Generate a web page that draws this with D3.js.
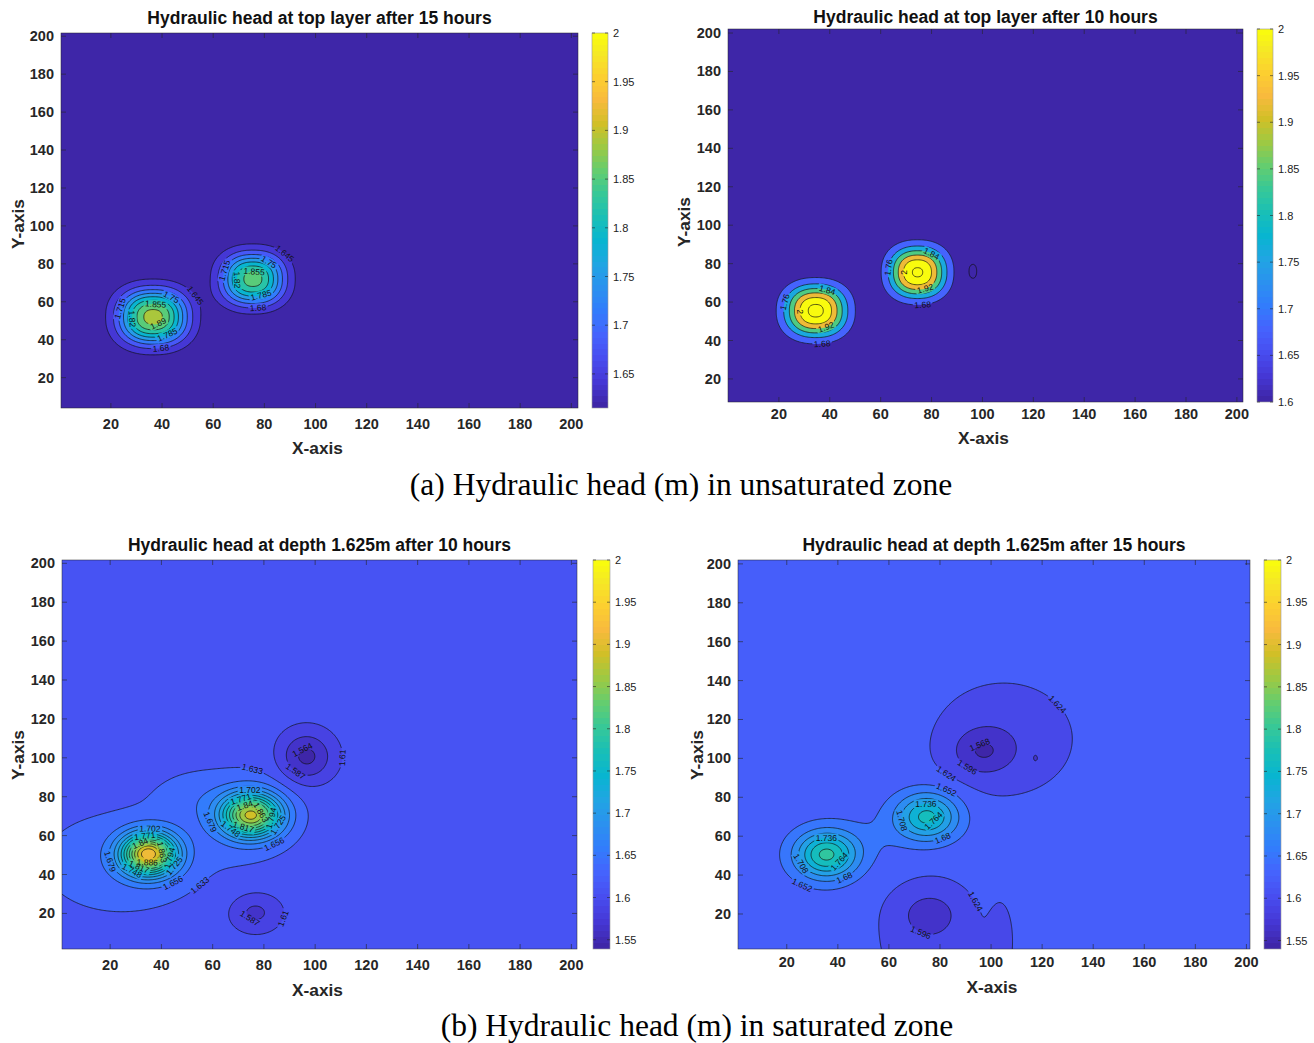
<!DOCTYPE html>
<html>
<head>
<meta charset="utf-8">
<script src="https://cdn.jsdelivr.net/npm/d3@7"></script>
<style>
  body { margin: 0; background: #fff; }
  svg { display: block; }
  text { font-family: "Liberation Sans", Arial, Helvetica, sans-serif; }
</style>
</head>
<body>
<svg id="fig" width="1314" height="1043"></svg>
<script>
// ---------------------------------------------------------------
// Tick labels shared by every map
const xTicks = [20, 40, 60, 80, 100, 120, 140, 160, 180, 200];
const yTicks = [20, 40, 60, 80, 100, 120, 140, 160, 180, 200];

// Colour-bar ticks
const cbTicksTop15  = [1.65, 1.7, 1.75, 1.8, 1.85, 1.9, 1.95, 2];
const cbTicksTop10  = [1.6, 1.65, 1.7, 1.75, 1.8, 1.85, 1.9, 1.95, 2];
const cbTicksDeep   = [1.55, 1.6, 1.65, 1.7, 1.75, 1.8, 1.85, 1.9, 1.95, 2];

// Contour levels (m)
const levelsTop15  = [1.645, 1.68, 1.715, 1.75, 1.785, 1.82, 1.855, 1.89];
const levelsTop10  = [1.6, 1.68, 1.76, 1.84, 1.92, 2.0, 2.08];
const levelsDeep10 = [1.564, 1.587, 1.61, 1.633, 1.656, 1.679, 1.702, 1.725, 1.748,
                      1.771, 1.794, 1.817, 1.84, 1.863, 1.886, 1.909, 1.932];
const levelsDeep15 = [1.568, 1.596, 1.624, 1.652, 1.68, 1.708, 1.736, 1.764, 1.792, 1.82];

// Background head (m)
const baseTop15 = 1.615, baseTop10 = 1.605, baseDeep10 = 1.62, baseDeep15 = 1.636;

// Head mounds / depressions: [x, y, rise (m), spread x, spread y]
const sourcesTop15 = [
  [36.5, 52, 0.29, 13, 14],
  [75.5, 72, 0.255, 11.9, 13.3]
];
const sourcesTop10 = [
  [34.5, 55.5, 0.495, 11.8, 13.1],
  [74.5, 75.5, 0.485, 10.9, 12.9],
  [96, 76, -0.025, 1.5, 3.5]
];
const sourcesDeep10 = [
  [35, 50.5, 0.285, 10.7, 10.7],
  [75, 70.5, 0.25, 11.5, 11],
  [24, 46, 0.024, 38, 32],
  [74, 72, 0.022, 22, 26],
  [52, 80, 0.016, 16, 14],
  [96.5, 100.5, -0.064, 10.5, 13],
  [76.5, 20.5, -0.04, 10, 10]
];
const sourcesDeep15 = [
  [35.5, 50.5, 0.164, 12, 12],
  [75, 70, 0.139, 12, 12],
  [55, 60, 0.012, 14, 14],
  [105, 110, -0.03, 28, 30],
  [96.5, 103.5, -0.046, 11.5, 11.5],
  [117.5, 100, -0.02, 1.7, 3.2],
  [76, 6, -0.025, 22, 34],
  [76, 20.5, -0.035, 12, 12],
  [104, 6, -0.022, 4.7, 20]
];

// ---------------------------------------------------------------
// parula colour map anchors
const parulaAnchors = [
  [0, "#3e26a8"], [4, "#4537d5"], [8, "#484df0"], [12, "#4563fd"],
  [16, "#327cfc"], [20, "#2b91ef"], [24, "#20a5e3"], [28, "#08b5d0"],
  [32, "#19bfb6"], [36, "#37c897"], [40, "#64cd6f"], [44, "#9dc943"],
  [48, "#d1bf27"], [52, "#f8ba3d"], [56, "#fccf30"], [60, "#f5e924"],
  [63, "#f9fb0e"]
];
const parulaScale = d3.scaleLinear()
  .domain(parulaAnchors.map(d => d[0]))
  .range(parulaAnchors.map(d => d[1]))
  .interpolate(d3.interpolateRgb)
  .clamp(true);
function colorFor(v, cmin, cmax) {
  const idx = Math.max(0, Math.min(63, Math.floor((v - cmin) / (cmax - cmin) * 64)));
  return parulaScale(idx);
}

// ---------------------------------------------------------------
const panels = [
  {
    title: "Hydraulic head at top layer after 15 hours",
    base: baseTop15, sources: sourcesTop15, levels: levelsTop15, shape: 2.3,
    cmin: 1.615, cmax: 2, cbTicks: cbTicksTop15,
    plot: [61, 33, 578, 408], cbar: [592, 608],
    xdom: [0.5, 202.6], ydom: [4, 201.7],
    titleY: 18, xTickY: 424, xLabelY: 448, yLabelX: 18, yLabelY: 224
  },
  {
    title: "Hydraulic head at top layer after 10 hours",
    base: baseTop10, sources: sourcesTop10, levels: levelsTop10, shape: 2.3,
    cmin: 1.6, cmax: 2, cbTicks: cbTicksTop10,
    plot: [728, 29, 1243, 402], cbar: [1257, 1273],
    xdom: [0, 202.4], ydom: [8, 202.1],
    titleY: 17, xTickY: 414, xLabelY: 438, yLabelX: 684, yLabelY: 222
  },
  {
    title: "Hydraulic head at depth 1.625m after 10 hours",
    base: baseDeep10, sources: sourcesDeep10, levels: levelsDeep10, shape: 2,
    cmin: 1.539, cmax: 2, cbTicks: cbTicksDeep,
    plot: [62, 560, 577, 949], cbar: [593, 610],
    xdom: [1.2, 202.2], ydom: [1.7, 201.7],
    titleY: 545, xTickY: 965, xLabelY: 990, yLabelX: 18, yLabelY: 755
  },
  {
    title: "Hydraulic head at depth 1.625m after 15 hours",
    base: baseDeep15, sources: sourcesDeep15, levels: levelsDeep15, shape: 2,
    cmin: 1.54, cmax: 2, cbTicks: cbTicksDeep,
    plot: [738, 560, 1250, 949], cbar: [1264, 1281],
    xdom: [0.9, 201.4], ydom: [2, 202],
    titleY: 545, xTickY: 962, xLabelY: 987, yLabelX: 697, yLabelY: 755
  }
];

const captions = [
  { text: "(a) Hydraulic head (m) in unsaturated zone", x: 681, y: 484 },
  { text: "(b) Hydraulic head (m) in saturated zone", x: 697, y: 1025 }
];

// ---------------------------------------------------------------
const svg = d3.select("#fig");
const defs = svg.append("defs");
const STEP = 0.5, G0 = -4, N = 421;

function headGrid(base, sources, p) {
  const values = new Float64Array(N * N);
  for (let j = 0; j < N; j++) {
    const y = G0 + j * STEP;
    for (let i = 0; i < N; i++) {
      const x = G0 + i * STEP;
      let v = base;
      for (const [cx, cy, a, sx, sy] of sources) {
        const q = Math.pow(Math.abs((x - cx) / sx), p) + Math.pow(Math.abs((y - cy) / sy), p);
        if (q < 40) v += a * Math.exp(-q);
      }
      values[j * N + i] = v;
    }
  }
  return values;
}

const fmtLevel = v => String(+v.toFixed(3));

panels.forEach((P, pi) => {
  const [px0, py0, px1, py1] = P.plot;
  const xs = d3.scaleLinear().domain(P.xdom).range([px0, px1]);
  const ys = d3.scaleLinear().domain(P.ydom).range([py1, py0]);
  const toPx = (gx, gy) => [xs(G0 + (gx - 0.5) * STEP), ys(G0 + (gy - 0.5) * STEP)];

  const clipId = "clip" + pi, maskId = "mask" + pi;
  defs.append("clipPath").attr("id", clipId)
    .append("rect").attr("x", px0).attr("y", py0)
    .attr("width", px1 - px0).attr("height", py1 - py0);
  const mask = defs.append("mask").attr("id", maskId)
    .attr("maskUnits", "userSpaceOnUse")
    .attr("x", 0).attr("y", 0).attr("width", 1314).attr("height", 1043);
  mask.append("rect").attr("x", 0).attr("y", 0).attr("width", 1314).attr("height", 1043)
    .attr("fill", "#fff");

  const values = headGrid(P.base, P.sources, P.shape);
  const bands = d3.contours().size([N, N]).thresholds(P.levels)(values);

  const proj = d3.geoTransform({
    point(x, y) { const q = toPx(x, y); this.stream.point(q[0], q[1]); }
  });
  const path = d3.geoPath(proj);

  const g = svg.append("g").attr("clip-path", `url(#${clipId})`);
  // lowest band
  g.append("rect").attr("x", px0).attr("y", py0)
    .attr("width", px1 - px0).attr("height", py1 - py0)
    .attr("fill", colorFor(P.cmin, P.cmin, P.cmax));
  // filled bands
  g.selectAll("path.band").data(bands).join("path")
    .attr("class", "band")
    .attr("d", path)
    .attr("fill", d => colorFor(d.value, P.cmin, P.cmax))
    .attr("stroke", d => colorFor(d.value, P.cmin, P.cmax))
    .attr("stroke-width", 0.3);

  // contour lines (masked under labels)
  const lines = g.append("g").attr("mask", `url(#${maskId})`);
  lines.selectAll("path").data(bands).join("path")
    .attr("d", path)
    .attr("fill", "none")
    .attr("stroke", "#111")
    .attr("stroke-width", 0.7);

  // inline contour labels, staggered from one level to the next
  const lab = g.append("g");
  const inside = (q, m) => q[0] > px0 + m && q[0] < px1 - m && q[1] > py0 + m && q[1] < py1 - m;
  bands.forEach((b, li) => {
    const txt = fmtLevel(b.value);
    const start = (0.12 + li * 0.31) % 1;
    b.coordinates.forEach(poly => poly.forEach(ring => {
      const pts = ring.map(([x, y]) => toPx(x, y));
      const cum = [0];
      for (let i = 1; i < pts.length; i++) {
        cum.push(cum[i - 1] + Math.hypot(pts[i][0] - pts[i - 1][0], pts[i][1] - pts[i - 1][1]));
      }
      const L = cum[cum.length - 1];
      if (L < 45) return;
      const n = Math.max(1, Math.round(L / 210));
      for (let k = 0; k < n; k++) {
        const s = ((k + start) / n) * L;
        let i = d3.bisectLeft(cum, s);
        i = Math.max(3, Math.min(pts.length - 4, i));
        const q = pts[i];
        if (!inside(q, 8)) continue;
        const a = pts[i - 3], c = pts[i + 3];
        let ang = Math.atan2(c[1] - a[1], c[0] - a[0]) * 180 / Math.PI;
        if (ang > 90) ang -= 180;
        if (ang < -90) ang += 180;
        const t = lab.append("text")
          .attr("transform", `translate(${q[0]},${q[1]}) rotate(${ang})`)
          .attr("text-anchor", "middle")
          .attr("dominant-baseline", "central")
          .attr("font-size", 8.5)
          .attr("fill", "#111")
          .text(txt);
        const w = t.node().getComputedTextLength() + 3;
        mask.append("rect")
          .attr("x", -w / 2).attr("y", -4.5).attr("width", w).attr("height", 9)
          .attr("transform", `translate(${q[0]},${q[1]}) rotate(${ang})`)
          .attr("fill", "#000");
      }
    }));
  });

  // axes frame and inward ticks
  const frame = svg.append("g");
  frame.append("rect").attr("x", px0).attr("y", py0)
    .attr("width", px1 - px0).attr("height", py1 - py0)
    .attr("fill", "none").attr("stroke", "#262626").attr("stroke-width", 0.5);
  const tk = 5;
  xTicks.forEach(v => {
    const x = xs(v);
    frame.append("line").attr("x1", x).attr("x2", x).attr("y1", py1).attr("y2", py1 - tk)
      .attr("stroke", "#262626").attr("stroke-width", 0.6);
    frame.append("line").attr("x1", x).attr("x2", x).attr("y1", py0).attr("y2", py0 + tk)
      .attr("stroke", "#262626").attr("stroke-width", 0.6);
    frame.append("text").attr("x", x).attr("y", P.xTickY)
      .attr("text-anchor", "middle").attr("dominant-baseline", "central")
      .attr("font-size", 14.5).attr("font-weight", "bold").attr("fill", "#262626")
      .text(v);
  });
  yTicks.forEach(v => {
    const y = ys(v);
    frame.append("line").attr("x1", px0).attr("x2", px0 + tk).attr("y1", y).attr("y2", y)
      .attr("stroke", "#262626").attr("stroke-width", 0.6);
    frame.append("line").attr("x1", px1).attr("x2", px1 - tk).attr("y1", y).attr("y2", y)
      .attr("stroke", "#262626").attr("stroke-width", 0.6);
    frame.append("text").attr("x", px0 - 7).attr("y", y)
      .attr("text-anchor", "end").attr("dominant-baseline", "central")
      .attr("font-size", 14.5).attr("font-weight", "bold").attr("fill", "#262626")
      .text(v);
  });

  // titles and axis names
  frame.append("text").attr("x", (px0 + px1) / 2).attr("y", P.titleY)
    .attr("text-anchor", "middle").attr("dominant-baseline", "central")
    .attr("font-size", 17.5).attr("font-weight", "bold").attr("fill", "#111")
    .text(P.title);
  frame.append("text").attr("x", (px0 + px1) / 2 - 2).attr("y", P.xLabelY)
    .attr("text-anchor", "middle").attr("dominant-baseline", "central")
    .attr("font-size", 17.3).attr("font-weight", "bold").attr("fill", "#262626")
    .text("X-axis");
  frame.append("text")
    .attr("transform", `translate(${P.yLabelX},${P.yLabelY}) rotate(-90)`)
    .attr("text-anchor", "middle").attr("dominant-baseline", "central")
    .attr("font-size", 17.3).attr("font-weight", "bold").attr("fill", "#262626")
    .text("Y-axis");

  // colour bar
  const [cx0, cx1] = P.cbar;
  const cs = d3.scaleLinear().domain([P.cmin, P.cmax]).range([py1, py0]);
  const gradId = "grad" + pi;
  const grad = defs.append("linearGradient").attr("id", gradId)
    .attr("x1", 0).attr("y1", 1).attr("x2", 0).attr("y2", 0);
  for (let k = 0; k < 64; k++) {
    grad.append("stop").attr("offset", k / 64).attr("stop-color", parulaScale(k));
    grad.append("stop").attr("offset", (k + 1) / 64).attr("stop-color", parulaScale(k));
  }
  frame.append("rect").attr("x", cx0).attr("y", py0)
    .attr("width", cx1 - cx0).attr("height", py1 - py0)
    .attr("fill", `url(#${gradId})`)
    .attr("stroke", "#9a9a9a").attr("stroke-width", 0.6);
  P.cbTicks.forEach(v => {
    const y = cs(v);
    frame.append("line").attr("x1", cx1).attr("x2", cx1 - 3).attr("y1", y).attr("y2", y)
      .attr("stroke", "#262626").attr("stroke-width", 0.6);
    frame.append("line").attr("x1", cx0).attr("x2", cx0 + 3).attr("y1", y).attr("y2", y)
      .attr("stroke", "#262626").attr("stroke-width", 0.6);
    frame.append("text").attr("x", cx1 + 5).attr("y", y)
      .attr("dominant-baseline", "central")
      .attr("font-size", 11).attr("fill", "#222")
      .text(v);
  });
});

// sub-figure captions
captions.forEach(c => {
  svg.append("text").attr("x", c.x).attr("y", c.y)
    .attr("text-anchor", "middle").attr("dominant-baseline", "central")
    .style("font-family", "'Liberation Serif', 'Times New Roman', serif")
    .attr("font-size", 31.5).attr("fill", "#000")
    .text(c.text);
});
</script>
</body>
</html>
